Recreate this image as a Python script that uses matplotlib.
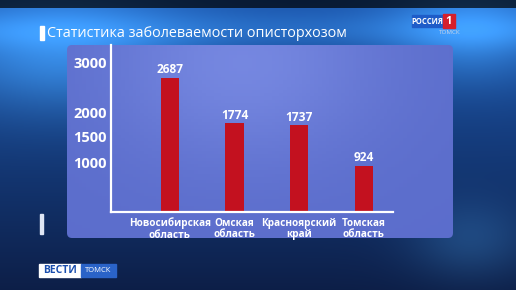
import numpy as np
import matplotlib.pyplot as plt
from matplotlib.patches import FancyBboxPatch, Rectangle

regions = ["Новосибирская\nобласть", "Омская\nобласть", "Красноярский\nкрай", "Томская\nобласть"]
cases = [2687, 1774, 1737, 924]
yticks = [1000, 1500, 2000, 3000]
title = "Статистика заболеваемости описторхозом"

W, H = 516, 290
plt.rcParams["font.family"] = ["Open Sans", "DejaVu Sans"]

fig = plt.figure(figsize=(W / 100, H / 100), dpi=100)

# --- background scene (smooth gradient, pixel coords) ---
bg = fig.add_axes([0, 0, 1, 1])
bg.set_xlim(0, W)
bg.set_ylim(H, 0)
bg.axis("off")
yy, xx = np.mgrid[0:H, 0:W]
base = np.zeros((H, W, 3))
t = yy / H
base[..., 0] = 0.05 + 0.06 * (1 - t)
base[..., 1] = 0.12 + 0.22 * (1 - t)
base[..., 2] = 0.28 + 0.40 * (1 - t)
glow = np.exp(-(((xx - 60) / 120) ** 2 + ((yy - 50) / 60) ** 2))
glow += 0.9 * np.exp(-(((xx - 470) / 80) ** 2 + ((yy - 30) / 50) ** 2))
glow += 0.5 * np.exp(-(((xx - 470) / 60) ** 2 + ((yy - 240) / 40) ** 2))
glow += 0.4 * np.exp(-(((yy - 30) / 18) ** 2))
base[..., 0] += 0.12 * glow
base[..., 1] += 0.25 * glow
base[..., 2] += 0.30 * glow
base[:8] *= 0.3
bg.imshow(np.clip(base, 0, 1), extent=(0, W, H, 0), aspect="auto", zorder=0)

# panel
py, px = np.mgrid[0:60, 0:100]
g = np.exp(-(((px - 45) / 35) ** 2 + ((py - 5) / 30) ** 2))
panel_img = np.zeros((60, 100, 3))
panel_img[..., 0] = 0.36 + 0.10 * g
panel_img[..., 1] = 0.43 + 0.10 * g
panel_img[..., 2] = 0.80 + 0.08 * g
panel = FancyBboxPatch((67, 45), 386, 193, boxstyle="round,pad=0,rounding_size=5",
                       fc="none", ec="none")
bg.add_patch(panel)
im = bg.imshow(panel_img, extent=(67, 453, 238, 45), aspect="auto", zorder=1)
im.set_clip_path(panel)

# title with bar
bg.add_patch(Rectangle((40, 26), 3.5, 14, color="white", zorder=3))
bg.text(47, 33.5, title, color="white", fontsize=10.4, va="center", ha="left", zorder=3)
bg.add_patch(Rectangle((40, 214), 3, 20, color="#dfe6f5", zorder=3))

# РОССИЯ 1 logo
bg.add_patch(Rectangle((412, 15), 31, 12, color="#1e5cc8", zorder=3))
bg.text(427.5, 21, "РОССИЯ", color="white", fontsize=5.5, weight="bold",
        ha="center", va="center", zorder=4)
bg.add_patch(Rectangle((443, 14), 12, 14, color="#d4202c", zorder=3))
bg.text(449, 21, "1", color="white", fontsize=8, weight="bold",
        ha="center", va="center", zorder=4)
bg.text(450, 33, "ТОМСК", color="#c8d4e8", fontsize=4.5, ha="center", va="center", zorder=4)

# ВЕСТИ ТОМСК logo
bg.add_patch(Rectangle((39, 264), 42, 13, color="white", zorder=3))
bg.text(60, 270.5, "ВЕСТИ", color="#1b4fae", fontsize=7.5, weight="bold",
        ha="center", va="center", zorder=4)
bg.add_patch(Rectangle((81, 264), 35, 13, color="#2a63c8", zorder=3))
bg.text(98.5, 271, "ТОМСК", color="white", fontsize=5.5, ha="center", va="center", zorder=4)

# --- chart ---
ax = fig.add_axes([111 / W, 78 / H, 282 / W, 167 / H])
ax.patch.set_alpha(0)
x = np.arange(len(cases))
ax.bar(x, cases, width=0.28, color="#c3111f", zorder=2)
for xi, v in zip(x, cases):
    ax.annotate(str(v), (xi, v), xytext=(0, 1), textcoords="offset points",
                ha="center", va="bottom", color="white", fontsize=8.6, weight="bold")

ax.set_xlim(-0.91, 3.45)
ax.set_ylim(0, 3340)
ax.set_yticks(yticks)
ax.set_yticklabels([str(t) for t in yticks], color="white", fontsize=10.5, weight="bold")
ax.set_xticks(x)
ax.set_xticklabels(regions, color="white", fontsize=7.2, weight="bold", linespacing=1.1)
ax.tick_params(axis="y", length=0, pad=3)
ax.tick_params(axis="x", length=0, pad=4)
for s in ["top", "right"]:
    ax.spines[s].set_visible(False)
for s in ["left", "bottom"]:
    ax.spines[s].set_color("white")
    ax.spines[s].set_linewidth(1.6)

fig.savefig("out.png", dpi=100)
